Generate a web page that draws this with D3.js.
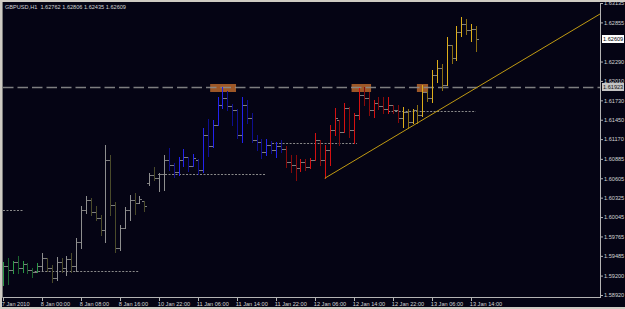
<!DOCTYPE html>
<html>
<head>
<meta charset="utf-8">
<script src="https://cdnjs.cloudflare.com/ajax/libs/d3/7.8.5/d3.min.js"></script>
<style>
  body { margin: 0; background: #050414; }
  svg text { font-family: "Liberation Sans", Arial, sans-serif; font-size: 5.6px; fill: #d4d4d4; }
</style>
</head>
<body>
<svg id="chart" width="625" height="309"></svg>
<script>
const symbol = 'GBPUSD,H1';

/* H1 bars, 7 Jan 2010 16:00 .. 13 Jan 2010 15:00 */
const opens = [1.59093, 1.59339, 1.59281, 1.59396, 1.59310, 1.59368, 1.59281, 1.59252, 1.59339, 1.59450,
  1.59310, 1.59165, 1.59396, 1.59310, 1.59440, 1.59339, 1.59685, 1.60147, 1.60291, 1.60118,
  1.60032, 1.59858, 1.60869, 1.60219, 1.59598, 1.59887, 1.60147, 1.60291, 1.60250, 1.60275,
  1.60537, 1.60652, 1.60609, 1.60667, 1.60869, 1.60797, 1.60696, 1.60869, 1.60905, 1.60782,
  1.60875, 1.60724, 1.61230, 1.61065, 1.61374, 1.61663, 1.61764, 1.61648, 1.61591, 1.61230,
  1.61663, 1.61475, 1.61157, 1.61129, 1.60984, 1.61085, 1.61013, 1.61071, 1.61028, 1.60840,
  1.60797, 1.60753, 1.60840, 1.60768, 1.60869, 1.61157, 1.60869, 1.61013, 1.61302, 1.61440,
  1.61280, 1.61619, 1.61302, 1.61518, 1.61807, 1.61764, 1.61591, 1.61692, 1.61648, 1.61605,
  1.61663, 1.61591, 1.61475, 1.61562, 1.61417, 1.61591, 1.61518, 1.61850, 1.61764, 1.62096,
  1.62197, 1.61951, 1.62529, 1.62341, 1.62716, 1.62832, 1.62745, 1.62762];
const highs = [1.59401, 1.59454, 1.59415, 1.59483, 1.59415, 1.59386, 1.59310, 1.59382, 1.59531, 1.59454,
  1.59353, 1.59469, 1.59454, 1.59483, 1.59531, 1.59743, 1.60205, 1.60349, 1.60320, 1.60205,
  1.60075, 1.61085, 1.60941, 1.60267, 1.59931, 1.60195, 1.60364, 1.60397, 1.60349, 1.60281,
  1.60685, 1.60768, 1.60677, 1.60941, 1.61038, 1.60830, 1.60908, 1.61023, 1.60908, 1.60955,
  1.60879, 1.61326, 1.61456, 1.61446, 1.61783, 1.61918, 1.61869, 1.61677, 1.61601, 1.61774,
  1.61735, 1.61543, 1.61230, 1.61168, 1.61168, 1.61147, 1.61133, 1.61157, 1.61064, 1.60941,
  1.60941, 1.60879, 1.60879, 1.60893, 1.61254, 1.61157, 1.61085, 1.61374, 1.61615, 1.61446,
  1.61696, 1.61638, 1.61552, 1.61904, 1.61918, 1.61855, 1.61735, 1.61774, 1.61774, 1.61774,
  1.61665, 1.61663, 1.61638, 1.61612, 1.61612, 1.61663, 1.61951, 1.61886, 1.62175, 1.62312,
  1.62255, 1.62649, 1.62535, 1.62803, 1.62929, 1.62900, 1.62832, 1.62806];
const lows = [1.59064, 1.59079, 1.59238, 1.59242, 1.59256, 1.59242, 1.59180, 1.59250, 1.59271, 1.59271,
  1.59112, 1.59137, 1.59256, 1.59209, 1.59256, 1.59271, 1.59594, 1.60104, 1.60075, 1.60003,
  1.59786, 1.59689, 1.60075, 1.59545, 1.59570, 1.59883, 1.60003, 1.60089, 1.60244, 1.60137,
  1.60508, 1.60580, 1.60426, 1.60436, 1.60724, 1.60619, 1.60652, 1.60782, 1.60714, 1.60775,
  1.60667, 1.60700, 1.60927, 1.61061, 1.61374, 1.61615, 1.61591, 1.61374, 1.61182, 1.61133,
  1.61399, 1.61133, 1.61013, 1.60893, 1.60941, 1.60965, 1.60916, 1.60989, 1.60768, 1.60700,
  1.60580, 1.60714, 1.60724, 1.60760, 1.60869, 1.60797, 1.60605, 1.60797, 1.61230, 1.61085,
  1.61277, 1.61205, 1.61110, 1.61456, 1.61663, 1.61518, 1.61494, 1.61601, 1.61543, 1.61543,
  1.61543, 1.61422, 1.61338, 1.61326, 1.61410, 1.61399, 1.61510, 1.61720, 1.61710, 1.61999,
  1.61879, 1.61945, 1.62265, 1.62312, 1.62659, 1.62688, 1.62591, 1.62435];
const closes = [1.59339, 1.59281, 1.59396, 1.59310, 1.59368, 1.59281, 1.59252, 1.59339, 1.59450, 1.59310,
  1.59165, 1.59396, 1.59310, 1.59440, 1.59339, 1.59685, 1.60147, 1.60291, 1.60118, 1.60032,
  1.59858, 1.60869, 1.60219, 1.59598, 1.59887, 1.60147, 1.60291, 1.60250, 1.60306, 1.60205,
  1.60652, 1.60609, 1.60667, 1.60869, 1.60797, 1.60696, 1.60869, 1.60912, 1.60782, 1.60898,
  1.60724, 1.61230, 1.61065, 1.61374, 1.61663, 1.61764, 1.61648, 1.61591, 1.61230, 1.61663,
  1.61475, 1.61157, 1.61129, 1.60984, 1.61085, 1.61013, 1.61071, 1.61028, 1.60840, 1.60797,
  1.60753, 1.60840, 1.60768, 1.60869, 1.61157, 1.60869, 1.61013, 1.61302, 1.61475, 1.61280,
  1.61619, 1.61302, 1.61518, 1.61807, 1.61764, 1.61591, 1.61692, 1.61648, 1.61605, 1.61663,
  1.61591, 1.61475, 1.61562, 1.61417, 1.61591, 1.61518, 1.61850, 1.61764, 1.62096, 1.62197,
  1.61951, 1.62529, 1.62341, 1.62716, 1.62832, 1.62745, 1.62762, 1.62609];

// first bar of each trading day (7 Jan, 8 Jan + Sunday, 11 Jan, 12 Jan, 13 Jan)
const dayStarts = [0, 8, 34, 58, 82];

/* Axes */
const priceTicks = [1.63135, 1.62855, 1.62290, 1.62010, 1.61730, 1.61450, 1.61170, 1.60885,
  1.60605, 1.60325, 1.60045, 1.59765, 1.59485, 1.59200, 1.58920];
const timeLabels = ['7 Jan 2010', '8 Jan 00:00', '8 Jan 08:00', '8 Jan 16:00', '10 Jan 22:00',
  '11 Jan 06:00', '11 Jan 14:00', '11 Jan 22:00', '12 Jan 06:00', '12 Jan 14:00',
  '12 Jan 22:00', '13 Jan 06:00', '13 Jan 14:00'];
const timeLabelBars = [0, 8, 16, 24, 32, 40, 48, 56, 64, 72, 80, 88, 96];

/* Drawn objects */
const resistance = 1.61923;
const touchZones = [[42.5, 47.8], [71.5, 75.5], [84.9, 87.2]];   // bar index ranges
const dailyLevels = [
  { price: 1.60147, from: 0, to: 4.1 },
  { price: 1.59271, from: 6.5, to: 28 },
  { price: 1.60662, from: 31.8, to: 54 },
  { price: 1.61112, from: 55.2, to: 72.6 },
  { price: 1.61580, from: 79, to: 97 }
];
const trendPoints = [[66, 1.60605], [97, 1.61907]];

/* Dimensions */
let plotLeft = 3, plotRight = 600, plotTop = 3, plotBottom = 297;
let barStep = 4.875;

let svg = d3.select('#chart');

let x = d3.scaleLinear()
  .domain([0, opens.length - 1])
  .range([plotLeft, plotLeft + (opens.length - 1) * barStep]);

let y = d3.scaleLinear()
  .domain([1.58920, 1.63135])
  .range([295, 3]);

let bars = opens.map((o, i) => ({ i: i, o: o, h: highs[i], l: lows[i], c: closes[i] }));

let dayColors = [
  { up: '#2c9a48', down: '#1c6430' },
  { up: '#8e8e8e', down: '#4a4a2a' },
  { up: '#2222ee', down: '#0e0e90' },
  { up: '#d41010', down: '#860a0a' },
  { up: '#deae1a', down: '#8a6e12' }
];
function barColor(d) {
  let day = d3.bisectRight(dayStarts, d.i) - 1;
  return d.c >= d.o ? dayColors[day].up : dayColors[day].down;
}

// window frame
svg.append('rect').attr('x', 0).attr('y', 0).attr('width', 625).attr('height', 309).attr('fill', '#050414');
svg.append('rect').attr('x', 0).attr('y', 0).attr('width', 625).attr('height', 2).attr('fill', '#cfcbc3');
svg.append('rect').attr('x', 0).attr('y', 0).attr('width', 2).attr('height', 309).attr('fill', '#cfcbc3');
svg.append('rect').attr('x', 2).attr('y', 2).attr('width', 1).attr('height', 296).attr('fill', '#7a7a7a');
svg.append('rect').attr('x', 0).attr('y', 307).attr('width', 625).attr('height', 2).attr('fill', '#cfcbc3');

svg.append('clipPath').attr('id', 'plot')
  .append('rect').attr('x', plotLeft).attr('y', plotTop)
  .attr('width', plotRight - plotLeft).attr('height', plotBottom - plotTop);

let plot = svg.append('g').attr('clip-path', 'url(#plot)');

// daily levels (dotted)
plot.selectAll('.level')
  .data(dailyLevels)
  .enter().append('line')
  .attr('x1', d => x(d.from))
  .attr('x2', d => x(d.to))
  .attr('y1', d => Math.round(y(d.price)) + 0.5)
  .attr('y2', d => Math.round(y(d.price)) + 0.5)
  .attr('stroke', '#8a8a8a')
  .attr('stroke-dasharray', '2,1.5');

// touch zones on resistance
plot.selectAll('.zone')
  .data(touchZones)
  .enter().append('rect')
  .attr('x', d => x(d[0]))
  .attr('width', d => x(d[1]) - x(d[0]))
  .attr('y', Math.round(y(resistance)) - 3)
  .attr('height', 8)
  .attr('fill', '#b8662a')
  .attr('opacity', 0.85);

// resistance line
plot.append('line')
  .attr('x1', plotLeft).attr('x2', plotRight)
  .attr('y1', Math.round(y(resistance)) + 0.5)
  .attr('y2', Math.round(y(resistance)) + 0.5)
  .attr('stroke', '#8c8c8c')
  .attr('stroke-opacity', 0.9)
  .attr('stroke-width', 1.3)
  .attr('stroke-dasharray', '10.5,4');

// bars
let barG = plot.selectAll('.bar')
  .data(bars)
  .enter().append('g');

barG.append('rect')
  .attr('x', d => Math.round(x(d.i)) - 2)
  .attr('y', d => Math.round(y(d.o)))
  .attr('width', 2).attr('height', 1)
  .attr('fill', '#7e7e7e');
barG.append('rect')
  .attr('x', d => Math.round(x(d.i)) + 1)
  .attr('y', d => Math.round(y(d.c)))
  .attr('width', 2).attr('height', 1)
  .attr('fill', '#7e7e7e');
barG.append('rect')
  .attr('x', d => Math.round(x(d.i)))
  .attr('y', d => Math.round(y(d.h)))
  .attr('width', 1)
  .attr('height', d => Math.round(y(d.l)) - Math.round(y(d.h)) + 1)
  .attr('fill', barColor);

// trend line, extended to the right edge
let slope = (trendPoints[1][1] - trendPoints[0][1]) / (trendPoints[1][0] - trendPoints[0][0]);
let endIdx = x.invert(plotRight);
plot.append('line')
  .attr('x1', x(trendPoints[0][0]))
  .attr('y1', y(trendPoints[0][1]))
  .attr('x2', x(endIdx))
  .attr('y2', y(trendPoints[0][1] + slope * (endIdx - trendPoints[0][0])))
  .attr('stroke', '#c09a12')
  .attr('stroke-width', 1);

// axis lines
svg.append('rect').attr('x', plotRight).attr('y', plotTop).attr('width', 1)
  .attr('height', plotBottom - plotTop + 1).attr('fill', '#b4b4b4');
svg.append('rect').attr('x', plotLeft).attr('y', plotBottom).attr('width', plotRight - plotLeft + 1)
  .attr('height', 1).attr('fill', '#b4b4b4');

// price axis
let yAxis = svg.append('g')
  .attr('transform', 'translate(' + (plotRight + 1) + ',0)')
  .call(d3.axisRight(y).tickValues(priceTicks).tickFormat(d3.format('.5f')).tickSize(2).tickPadding(1));
yAxis.select('.domain').remove();
yAxis.selectAll('line').attr('stroke', '#b4b4b4');
yAxis.selectAll('text').attr('fill', '#d4d4d4').style('font-size', '5.6px')
  .attr('font-family', '"Liberation Sans", Arial, sans-serif');

// time axis
let xAxis = svg.append('g')
  .attr('transform', 'translate(0,' + (plotBottom + 1) + ')')
  .call(d3.axisBottom(x).tickValues(timeLabelBars).tickFormat((d, i) => timeLabels[i]).tickSize(3).tickPadding(1));
xAxis.select('.domain').remove();
xAxis.selectAll('line').attr('stroke', '#b4b4b4');
xAxis.selectAll('text').attr('fill', '#d4d4d4').style('font-size', '5.6px')
  .attr('text-anchor', 'start').attr('dx', '-0.3em')
  .attr('font-family', '"Liberation Sans", Arial, sans-serif');

// highlighted price labels
function priceBadge(price, bg, fg) {
  let g = svg.append('g').attr('transform', 'translate(' + (plotRight + 2) + ',' + Math.round(y(price)) + ')');
  g.append('rect').attr('x', 0).attr('y', -4).attr('width', 22).attr('height', 8).attr('fill', bg);
  g.append('text').attr('x', 1).attr('dy', '0.35em').style('fill', fg).text(d3.format('.5f')(price));
}
priceBadge(resistance, '#c4c4c4', '#101010');
priceBadge(closes[closes.length - 1], '#ffffff', '#000000');

// header
let last = opens.length - 1;
svg.append('text')
  .attr('x', 5).attr('y', 9.3)
  .attr('xml:space', 'preserve')
  .text(symbol + '  ' + [opens[last], highs[last], lows[last], closes[last]].map(d3.format('.5f')).join(' '));
</script>
</body>
</html>
